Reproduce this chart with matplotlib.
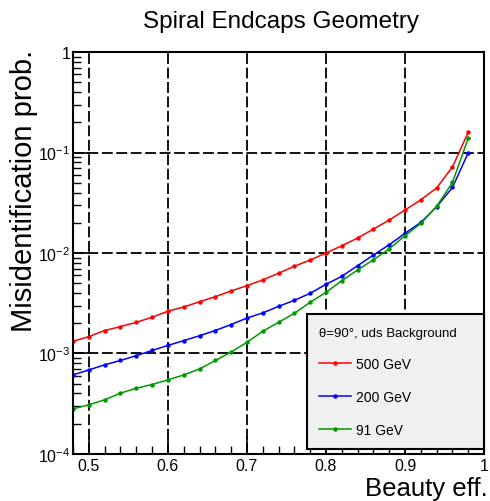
import numpy as np
import matplotlib.pyplot as plt
from matplotlib.ticker import FixedLocator, MultipleLocator, LogLocator

plt.rcParams['font.family'] = ['Liberation Sans', 'DejaVu Sans']
plt.rcParams['mathtext.fontset'] = 'custom'
plt.rcParams['mathtext.rm'] = 'Liberation Sans'
plt.rcParams['mathtext.it'] = 'Liberation Sans:italic'
plt.rcParams['mathtext.bf'] = 'Liberation Sans:bold'

# Beauty efficiency points (every 0.02)
eff = [0.48, 0.50, 0.52, 0.54, 0.56, 0.58, 0.60, 0.62, 0.64, 0.66, 0.68, 0.70,
       0.72, 0.74, 0.76, 0.78, 0.80, 0.82, 0.84, 0.86, 0.88, 0.90, 0.92, 0.94,
       0.96, 0.98]

mis_500 = [1.32e-3, 1.47e-3, 1.69e-3, 1.85e-3, 2.04e-3, 2.29e-3, 2.63e-3, 2.90e-3,
           3.27e-3, 3.67e-3, 4.19e-3, 4.73e-3, 5.39e-3, 6.28e-3, 7.38e-3, 8.51e-3,
           1.00e-2, 1.18e-2, 1.41e-2, 1.73e-2, 2.13e-2, 2.68e-2, 3.39e-2, 4.45e-2,
           7.20e-2, 1.60e-1]
mis_200 = [6.10e-4, 6.85e-4, 7.69e-4, 8.50e-4, 9.50e-4, 1.07e-3, 1.20e-3, 1.34e-3,
           1.50e-3, 1.69e-3, 1.94e-3, 2.25e-3, 2.53e-3, 2.94e-3, 3.38e-3, 3.97e-3,
           4.88e-3, 5.86e-3, 7.48e-3, 9.55e-3, 1.21e-2, 1.57e-2, 2.02e-2, 2.89e-2,
           4.50e-2, 1.00e-1]
mis_91 = [2.80e-4, 3.08e-4, 3.45e-4, 4.02e-4, 4.50e-4, 4.90e-4, 5.45e-4, 6.10e-4,
          7.00e-4, 8.50e-4, 1.03e-3, 1.29e-3, 1.66e-3, 2.04e-3, 2.51e-3, 3.23e-3,
          4.06e-3, 5.30e-3, 6.78e-3, 8.57e-3, 1.10e-2, 1.49e-2, 1.97e-2, 2.92e-2,
          5.05e-2, 1.40e-1]

labels = ['500 GeV', '200 GeV', '91 GeV']
colors = ['#ff0000', '#0000ff', '#009900']

x_ticks = [0.5, 0.6, 0.7, 0.8, 0.9, 1.0]
x_ticklabels = ['0.5', '0.6', '0.7', '0.8', '0.9', '1']
y_ticks = [1e-4, 1e-3, 1e-2, 1e-1, 1]
y_ticklabels = ['$10^{-4}$', '$10^{-3}$', '$10^{-2}$', '$10^{-1}$', '1']

fig = plt.figure(figsize=(4.9, 5.02), dpi=100)
ax = fig.add_axes([0.149, 0.094, 0.839, 0.800])

for y, lab, c in zip([mis_500, mis_200, mis_91], labels, colors):
    ax.plot(eff, y, '-', color=c, lw=1.1, marker='o', ms=2.2, label=lab)

ax.set_yscale('log')
ax.set_xlim(0.48, 1.0)
ax.set_ylim(1e-4, 1)

ax.xaxis.set_major_locator(FixedLocator(x_ticks))
ax.xaxis.set_minor_locator(MultipleLocator(0.02))
ax.set_xticklabels(x_ticklabels)
ax.yaxis.set_major_locator(FixedLocator(y_ticks))
ax.yaxis.set_minor_locator(LogLocator(base=10, subs=np.arange(2, 10), numticks=10))
ax.set_yticklabels(y_ticklabels)
ax.tick_params(which='both', direction='in', top=False, right=False, labelsize=11.5)
ax.tick_params(which='major', length=12, width=1.2)
ax.tick_params(which='minor', length=6, width=1.0)
ax.tick_params(axis='x', pad=3)
ax.tick_params(axis='y', pad=2)
for s in ax.spines.values():
    s.set_linewidth(1.5)

ax.grid(True, which='major', color='black', ls=(0, (6, 2)), lw=1.3)

leg = ax.legend(loc='upper left', bbox_to_anchor=(0.569, 0.022, 0.431, 0.326), mode='expand',
                title='θ=90°, uds Background',
                fontsize=10, title_fontsize=9.5, alignment='left', frameon=True,
                fancybox=False, facecolor='#f0f0f0', edgecolor='black', framealpha=1,
                handlelength=2.3, labelspacing=1.35, borderpad=0.9, handletextpad=0.3,
                borderaxespad=0)
leg.get_frame().set_linewidth(1.5)

fig.text(0.573, 0.944, 'Spiral Endcaps Geometry', ha='center', va='baseline', fontsize=17.5)
fig.text(0.050, 0.90, 'Misidentification prob.', rotation=90, ha='center', va='top', fontsize=21)
fig.text(0.996, 0.011, 'Beauty eff.', ha='right', va='baseline', fontsize=18.5)

fig.savefig('out.png', dpi=100)
